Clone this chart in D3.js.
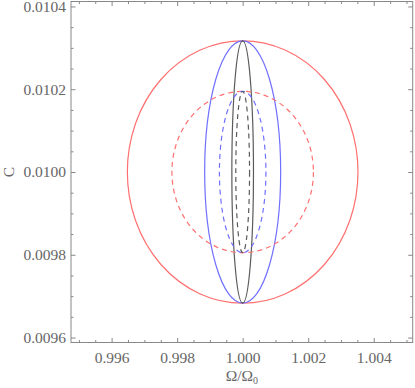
<!DOCTYPE html>
<html lang="en">
<head>
    <meta charset="UTF-8">
    <title>Ellipses</title>
    <script type="text/javascript" src="https://cdn.jsdelivr.net/npm/d3@7/dist/d3.min.js"></script>
    <style>
        body { margin: 0; background: #fff; }
        text { font-family: "Liberation Serif", "DejaVu Serif", serif; fill: #666; }
    </style>
</head>
<body>
<script type="text/javascript">
    var w = 415;
    var h = 388;

    // data
    var centerX = 1.000;
    var centerY = 0.0100;
    var colors = ["#ff7070", "#7070ff", "#5a5a5a"];
    var outerHalfWidth = [0.00352, 0.00116, 0.00033];
    var outerHalfHeight = [0.000317, 0.000317, 0.000317];
    var innerHalfWidth = [0.00216, 0.00071, 0.00021];
    var innerHalfHeight = [0.000195, 0.000195, 0.000195];
    var xTicks = [0.996, 0.998, 1.000, 1.002, 1.004];
    var xTickLabels = ["0.996", "0.998", "1.000", "1.002", "1.004"];
    var yTicks = [0.0096, 0.0098, 0.0100, 0.0102, 0.0104];
    var yTickLabels = ["0.0096", "0.0098", "0.0100", "0.0102", "0.0104"];

    var plotLeft = 71, plotRight = 412.7, plotTop = 1.5, plotBottom = 342.5;

    var x = d3.scaleLinear().domain([0.99476, 1.00519]).range([plotLeft, plotRight]);
    var y = d3.scaleLinear().domain([0.009588, 0.010412]).range([plotBottom, plotTop]);

    var svg = d3.select("body")
        .append("svg")
        .attr("width", w)
        .attr("height", h);

    var xMinor = d3.range(0.995, 1.0052, 0.0005).filter(function (v) {
        return Math.abs(Math.round(v * 500) - v * 500) > 1e-6;
    });
    var yMinor = d3.range(0.00960, 0.01041, 0.00005).filter(function (v) {
        return Math.abs(Math.round(v * 5000) - v * 5000) > 1e-6;
    });

    var axisColor = "#888";

    function styleAxis(g) {
        g.select(".domain").remove();
        g.selectAll("line").attr("stroke", axisColor).attr("stroke-width", 1);
        g.selectAll("text").attr("font-size", 15.5).attr("fill", "#666")
            .attr("font-family", "'Liberation Serif', serif");
    }

    // bottom
    svg.append("g").attr("transform", "translate(0," + plotBottom + ")")
        .call(d3.axisBottom(x).tickValues(xTicks).tickSize(-4.5).tickPadding(9)
            .tickFormat(function (d, i) { return xTickLabels[i]; }))
        .call(styleAxis);
    svg.append("g").attr("transform", "translate(0," + plotBottom + ")")
        .call(d3.axisBottom(x).tickValues(xMinor).tickSize(-2.5).tickFormat(""))
        .call(styleAxis);
    // top
    svg.append("g").attr("transform", "translate(0," + plotTop + ")")
        .call(d3.axisTop(x).tickValues(xTicks).tickSize(-4.5).tickFormat(""))
        .call(styleAxis);
    svg.append("g").attr("transform", "translate(0," + plotTop + ")")
        .call(d3.axisTop(x).tickValues(xMinor).tickSize(-2.5).tickFormat(""))
        .call(styleAxis);
    // left
    svg.append("g").attr("transform", "translate(" + plotLeft + ",0)")
        .call(d3.axisLeft(y).tickValues(yTicks).tickSize(-4.5).tickPadding(5)
            .tickFormat(function (d, i) { return yTickLabels[i]; }))
        .call(styleAxis);
    svg.append("g").attr("transform", "translate(" + plotLeft + ",0)")
        .call(d3.axisLeft(y).tickValues(yMinor).tickSize(-2.5).tickFormat(""))
        .call(styleAxis);
    // right
    svg.append("g").attr("transform", "translate(" + plotRight + ",0)")
        .call(d3.axisRight(y).tickValues(yTicks).tickSize(-4.5).tickFormat(""))
        .call(styleAxis);
    svg.append("g").attr("transform", "translate(" + plotRight + ",0)")
        .call(d3.axisRight(y).tickValues(yMinor).tickSize(-2.5).tickFormat(""))
        .call(styleAxis);

    // frame
    svg.append("rect")
        .attr("x", plotLeft).attr("y", plotTop)
        .attr("width", plotRight - plotLeft).attr("height", plotBottom - plotTop)
        .attr("fill", "none").attr("stroke", axisColor).attr("stroke-width", 1);

    // ellipses
    var plot = svg.append("g");
    plot.selectAll("ellipse.outer")
        .data(outerHalfWidth).enter()
        .append("ellipse")
        .attr("class", "outer")
        .attr("cx", x(centerX)).attr("cy", y(centerY))
        .attr("rx", function (d) { return x(centerX + d) - x(centerX); })
        .attr("ry", function (d, i) { return y(centerY) - y(centerY + outerHalfHeight[i]); })
        .attr("fill", "none")
        .attr("stroke", function (d, i) { return colors[i]; })
        .attr("stroke-width", 1.2);

    plot.selectAll("ellipse.inner")
        .data(innerHalfWidth).enter()
        .append("ellipse")
        .attr("class", "inner")
        .attr("cx", x(centerX)).attr("cy", y(centerY))
        .attr("rx", function (d) { return x(centerX + d) - x(centerX); })
        .attr("ry", function (d, i) { return y(centerY) - y(centerY + innerHalfHeight[i]); })
        .attr("fill", "none")
        .attr("stroke", function (d, i) { return colors[i]; })
        .attr("stroke-width", 1.2)
        .attr("stroke-dasharray", "5,4");

    // axis titles
    var xt = svg.append("text")
        .attr("x", (plotLeft + plotRight) / 2)
        .attr("y", 381)
        .attr("text-anchor", "middle")
        .attr("font-size", 15.5);
    xt.append("tspan").text("\u03A9/\u03A9");
    xt.append("tspan").attr("font-size", 10).attr("dy", 3).text("0");

    svg.append("text")
        .attr("transform", "translate(14," + y(centerY) + ") rotate(-90)")
        .attr("text-anchor", "middle")
        .attr("font-size", 15.5)
        .text("C");
</script>
</body>
</html>
